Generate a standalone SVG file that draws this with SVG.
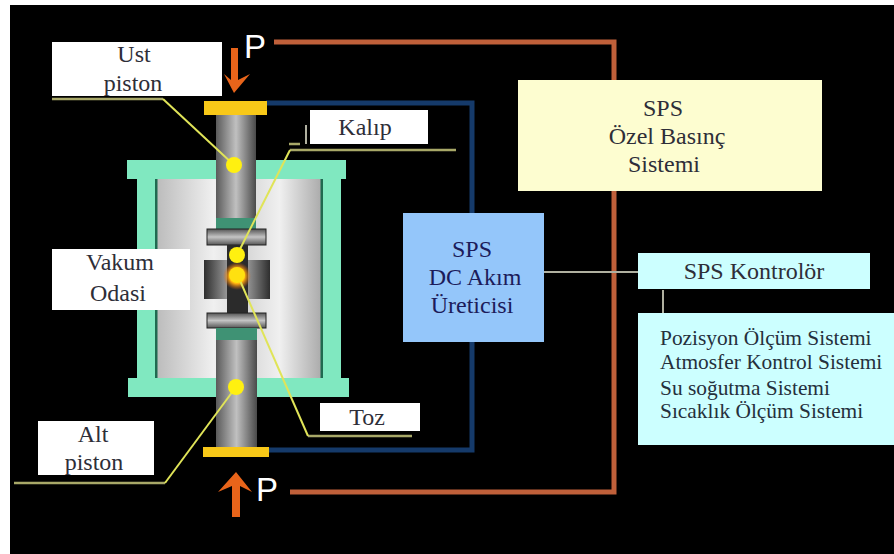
<svg xmlns="http://www.w3.org/2000/svg" width="894" height="554" viewBox="0 0 894 554">
<style>
text{font-family:"Liberation Serif","Times New Roman",serif;fill:#2e2e38;text-anchor:middle;font-size:24px}
.navy{fill:#1c1c5a}
.side{font-size:21.4px;text-anchor:start;fill:#25303c}
.p{font-family:"Liberation Sans",Arial,sans-serif;font-size:33px;fill:#fff;text-anchor:start}
.or{fill:none;stroke:#c0603a;stroke-width:5}
.bl{fill:none;stroke:#153a6a;stroke-width:5}
.lead{fill:none;stroke:#a8a868;stroke-width:2.5}
.ptr{fill:none;stroke:#e0e458;stroke-width:2}
.frame{fill:#80e8c0}
.plate{fill:#f8c818}
.dot{fill:#fff010}
.white{fill:#fff}
.grey{fill:none;stroke:#b0b0a0;stroke-width:2}
.force{fill:#e8641a}
</style>
<defs>
<linearGradient id="piston"><stop offset="0" stop-color="#5a5a5a"/><stop offset=".5" stop-color="#c0c0c0"/><stop offset="1" stop-color="#4a4a4a"/></linearGradient>
<linearGradient id="chamberL"><stop offset="0" stop-color="#bcbcbc"/><stop offset=".7" stop-color="#f0f0f0"/><stop offset="1" stop-color="#dcdcdc"/></linearGradient>
<linearGradient id="chamberR"><stop offset="0" stop-color="#d0d0d0"/><stop offset=".5" stop-color="#f0f0f0"/><stop offset="1" stop-color="#aaaaaa"/></linearGradient>
<linearGradient id="die"><stop offset="0" stop-color="#2e2e2e"/><stop offset=".5" stop-color="#c4c4c4"/><stop offset="1" stop-color="#2e2e2e"/></linearGradient>
<linearGradient id="disc" x2="0" y2="1"><stop offset="0" stop-color="#555"/><stop offset=".5" stop-color="#c4c4c4"/><stop offset="1" stop-color="#555"/></linearGradient>
<radialGradient id="glow"><stop offset=".55" stop-color="#ffb010"/><stop offset="1" stop-color="#e06010" stop-opacity="0"/></radialGradient>
</defs>
<rect width="894" height="554" fill="#fff"/>
<rect x="10" y="5" width="884" height="549" fill="#000"/>
<g id="connectors">
<path class="or" d="M274 42H614V492H290"/>
<path class="bl" d="M266 103H472V450H268"/>
<path class="grey" d="M544 272H638M663 290V314"/>
</g>
<g id="vacuum-chamber">
<rect x="157" y="179" width="81" height="199" fill="url(#chamberL)"/>
<rect x="237" y="179" width="85" height="199" fill="url(#chamberR)"/>
<rect class="frame" x="137" y="178" width="18" height="200"/>
<rect class="frame" x="323" y="178" width="18" height="200"/>
<rect x="155" y="178" width="2.500" height="200" fill="#1f6a50"/>
<rect x="320.500" y="178" width="2.500" height="200" fill="#1f6a50"/>
<rect class="frame" x="127" y="160" width="219" height="19"/>
<rect class="frame" x="128" y="378" width="221" height="19"/>
</g>
<g id="press-column">
<rect x="216" y="115" width="40" height="103" fill="url(#piston)"/>
<rect x="216" y="218" width="40" height="11" fill="#3f9274"/>
<rect x="207" y="229" width="59" height="16" fill="url(#disc)" stroke="#222"/>
<rect x="204" y="260" width="66" height="39" fill="url(#die)"/>
<rect x="227" y="245" width="21" height="68" fill="#2b2b2b"/>
<rect x="207" y="313" width="59" height="15" fill="url(#disc)" stroke="#222"/>
<rect x="216" y="328" width="41" height="12" fill="#3f9274"/>
<rect x="216" y="340" width="41" height="107" fill="url(#piston)"/>
<circle cx="237" cy="276" r="14" fill="url(#glow)"/>
</g>
<g id="upper-plate"><rect class="plate" x="204" y="101" width="63" height="14"/></g>
<g id="lower-plate"><rect class="plate" x="203" y="447" width="66" height="10"/></g>
<g id="top-force">
<path class="force" d="M231 48H238V80L250 74L234 93L224 74L231 80Z"/>
<text class="p" x="244" y="58">P</text>
</g>
<g id="bottom-force">
<path class="force" d="M236 472L252 492L240 486V517H232V486L218 492Z"/>
<text class="p" x="256" y="501">P</text>
</g>
<g id="ust-piston">
<rect class="white" x="52" y="42" width="170" height="54"/>
<text x="134" y="62">Ust</text>
<text x="133" y="91">piston</text>
<path class="lead" d="M52 99H163"/>
<path class="ptr" d="M163 99L234 165"/>
<circle class="dot" cx="234" cy="165" r="8"/>
</g>
<g id="kalip">
<rect class="white" x="310" y="110" width="118" height="34"/>
<text x="365" y="135">Kalıp</text>
<path class="lead" d="M290 150H456M289 144H300"/>
<path class="grey" d="M306 125V144"/>
<path class="ptr" d="M290 150L237 255"/>
<circle class="dot" cx="237" cy="255" r="8"/>
</g>
<g id="vakum-odasi">
<rect class="white" x="52" y="249" width="138" height="61"/>
<text x="120" y="270">Vakum</text>
<text x="118" y="301">Odasi</text>
</g>
<g id="toz">
<rect class="white" x="320" y="403" width="100" height="28"/>
<text x="367" y="425">Toz</text>
<path class="lead" d="M308 436H412"/>
<path class="ptr" d="M308 436L238 276"/>
<circle cx="237" cy="275" r="8" fill="#ffe010"/>
</g>
<g id="alt-piston">
<rect class="white" x="38" y="421" width="116" height="54"/>
<text x="93" y="442">Alt</text>
<text x="94" y="470">piston</text>
<path class="lead" d="M14 483H165"/>
<path class="ptr" d="M165 483L236 387"/>
<circle class="dot" cx="236" cy="387" r="8"/>
</g>
<g id="sps-basinc">
<rect x="518" y="80" width="304" height="111" fill="#fdfdd0"/>
<text x="663" y="116">SPS</text>
<text x="667" y="144">Özel Basınç</text>
<text x="664" y="172">Sistemi</text>
</g>
<g id="sps-dc">
<rect x="403" y="213" width="141" height="129" fill="#94c6fa"/>
<text class="navy" x="472" y="257">SPS</text>
<text class="navy" x="475" y="285">DC Akım</text>
<text class="navy" x="472" y="313">Üreticisi</text>
</g>
<g id="sps-kontrolor">
<rect x="638" y="253" width="232" height="36" fill="#ccffff"/>
<text x="754" y="279">SPS Kontrolör</text>
</g>
<g id="sistemler">
<rect x="638" y="313" width="256" height="132" fill="#ccffff"/>
<text class="side" x="660" y="345">Pozisyon Ölçüm Sistemi</text>
<text class="side" x="660" y="369">Atmosfer Kontrol Sistemi</text>
<text class="side" x="660" y="395">Su soğutma Sistemi</text>
<text class="side" x="660" y="418">Sıcaklık Ölçüm Sistemi</text>
</g>
</svg>
